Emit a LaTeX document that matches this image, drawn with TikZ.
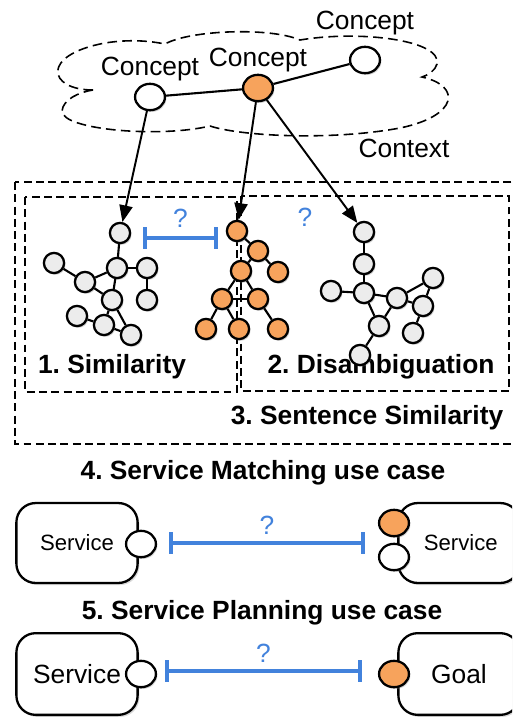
\documentclass[tikz,border=0pt]{standalone}
\usepackage{fontspec}
\setmainfont{Liberation Sans}
\usetikzlibrary{arrows.meta}
\usetikzlibrary{shadows}
\usetikzlibrary{shapes.geometric}
\definecolor{conceptorange}{RGB}{247,163,92}
\definecolor{nodegray}{RGB}{236,236,236}
\definecolor{qblue}{RGB}{66,130,220}
\frenchspacing

\begin{document}
\begin{tikzpicture}[x=0.02cm, y=-0.02cm, node distance={16pt},
  main/.style = {draw, circle, line width=1.3pt, fill=nodegray, minimum size=11.5pt, inner sep=0pt, drop shadow={shadow xshift=0.8pt, shadow yshift=-1pt, opacity=0.35}},
  orange/.style = {main, fill=conceptorange},
  concept/.style = {draw, ellipse, line width=1.3pt, fill=white, minimum width=17pt, minimum height=15pt, inner sep=0pt, drop shadow={shadow xshift=0.8pt, shadow yshift=-1pt, opacity=0.35}},
  word/.style = {font=\fontsize{15}{18}\selectfont, inner sep=0pt},
  title/.style = {font=\fontsize{15}{18}\selectfont\bfseries, inner sep=0pt},
  qmark/.style = {text=qblue, font=\fontsize{15}{18}\selectfont, inner sep=0pt},
  frame/.style = {line width=0.8pt, dash pattern=on 4.5pt off 2.5pt},
  cloudline/.style = {line width=0.9pt, dash pattern=on 5.5pt off 3pt},
  pointer/.style = {line width=1.1pt, -{Triangle[length=9.5pt, width=7.5pt]}},
  link/.style = {line width=1.2pt},
  qbar/.style = {draw=qblue, line width=2pt, {Bar[width=12.5pt, line width=2pt]}-{Bar[width=12.5pt, line width=2pt]}},
  svc/.style = {draw, rounded corners=11pt, line width=1.3pt, fill=white, minimum width=69pt, minimum height=45.5pt, drop shadow={shadow xshift=1pt, shadow yshift=-1.2pt, opacity=0.3}}]
\useasboundingbox (0,0) rectangle (512,717);
\clip (0,0) rectangle (512,717);

% concepts and their context
\draw[cloudline] (93,90) .. controls (48,90) and (40,55) .. (105,43)
  .. controls (130,39) and (150,41) .. (165,44)
  .. controls (190,30) and (270,27) .. (300,40)
  .. controls (360,30) and (442,40) .. (437,64)
  .. controls (435,71) and (428,75) .. (422,77)
  .. controls (462,86) and (458,116) .. (400,128)
  .. controls (330,141) and (240,136) .. (210,126)
  .. controls (160,138) and (62,130) .. (62,111)
  .. controls (63,99) and (80,92) .. (93,90) -- cycle;
\node[concept] (k1) at (150,97) {};
\node[concept, fill=conceptorange] (k2) at (258,88) {};
\node[concept] (k3) at (365,60) {};
\node[word] (l1) [above of = k1] {Concept};
\node[word] (l2) [above of = k2] {Concept};
\node[word, node distance={21pt}] (l3) [above of = k3] {Concept};
\node[word] (ctx) at (404,148) {Context};
\draw[link] (k1) to (k2);
\draw[link] (k2) to (k3);

% dashed frames
\draw[frame] (15,182) rectangle (530,444);
\draw[frame] (25,197) rectangle (237,392);
\draw[frame] (241,196) rectangle (509,391);
\node[title] (t1) at (112,367) {1. Similarity};
\node[title] (t2) at (381,367) {2. Disambiguation};
\node[title] (t3) at (367,418) {3. Sentence Similarity};

% graph 1
\node[main] (a1) at (120,233) {};
\node[main] (a2) at (117,268) {};
\node[main] (a3) at (147,268) {};
\node[main] (a4) at (147,300) {};
\node[main] (a5) at (54,263) {};
\node[main] (a6) at (85,282) {};
\node[main] (a7) at (112,300) {};
\node[main] (a8) at (77,316) {};
\node[main] (a9) at (104,325) {};
\node[main] (a10) at (131,335) {};
\draw[link] (a1) to (a2);
\draw[link] (a2) to (a3);
\draw[link] (a3) to (a4);
\draw[link] (a5) to (a6);
\draw[link] (a6) to (a2);
\draw[link] (a2) to (a7);
\draw[link] (a6) to (a7);
\draw[link] (a7) to (a9);
\draw[link] (a7) to (a10);
\draw[link] (a8) to (a9);
\draw[link] (a9) to (a10);

% graph 2
\node[orange] (b1) at (237,231) {};
\node[orange] (b2) at (258,251) {};
\node[orange] (b3) at (241,271) {};
\node[orange] (b4) at (278,272) {};
\node[orange] (b5) at (222,299) {};
\node[orange] (b6) at (258,299) {};
\node[orange] (b7) at (206,329) {};
\node[orange] (b8) at (239,329) {};
\node[orange] (b9) at (278,329) {};
\draw[link] (b1) to (b2);
\draw[link] (b2) to (b3);
\draw[link] (b2) to (b4);
\draw[link] (b3) to (b5);
\draw[link] (b3) to (b6);
\draw[link] (b5) to (b6);
\draw[link] (b5) to (b7);
\draw[link] (b5) to (b8);
\draw[link] (b6) to (b9);

% graph 3
\node[main] (c1) at (364,232) {};
\node[main] (c2) at (364,264) {};
\node[main] (c3) at (331,291) {};
\node[main] (c4) at (364,293) {};
\node[main] (c5) at (397,298) {};
\node[main] (c6) at (433,278) {};
\node[main] (c7) at (423,306) {};
\node[main] (c8) at (379,326) {};
\node[main] (c9) at (413,333) {};
\node[main] (c10) at (360,355) {};
\draw[link] (c1) to (c2);
\draw[link] (c2) to (c4);
\draw[link] (c3) to (c4);
\draw[link] (c4) to (c5);
\draw[link] (c4) to (c8);
\draw[link] (c5) to (c8);
\draw[link] (c5) to (c6);
\draw[link] (c5) to (c7);
\draw[link] (c6) to (c7);
\draw[link] (c7) to (c9);
\draw[link] (c8) to (c10);

% concepts point into the graphs
\draw[pointer] (k1) to (a1);
\draw[pointer] (k2) to (b1);
\draw[pointer] (k2) to (c1);
\coordinate (q1) at (143,238);
\coordinate (q2) at (218,238);
\draw[qbar] (q1) to node[qmark, above=5pt] {?} (q2);
\node[qmark] (q0) at (305,217) {?};

% use cases
\node[title] (t4) at (263,473) {4. Service Matching use case};
\node[svc, font=\fontsize{12.6}{15}\selectfont] (s1) at (77,543) {Service};
\node[concept] (p1) at (141,544) {};
\node[svc, font=\fontsize{12.6}{15}\selectfont] (s2) at (459,543) {\hspace{2pt}Service};
\node[concept, fill=conceptorange] (p2) at (394,523) {};
\node[concept] (p3) at (394,557) {};
\coordinate (q3) at (169,543);
\coordinate (q4) at (365,543);
\draw[qbar] (q3) to node[qmark, above=4pt] {?} (q4);

\node[title] (t5) at (262,613) {5. Service Planning use case};
\node[svc, minimum height=46.5pt, font=\fontsize{15}{18}\selectfont] (s3) at (77,674) {Service};
\node[concept] (p4) at (141,674) {};
\node[svc, minimum height=46.5pt, font=\fontsize{15}{18}\selectfont] (s4) at (459,674) {Goal};
\node[concept, fill=conceptorange] (p5) at (394,674) {};
\coordinate (q5) at (165,671);
\coordinate (q6) at (362,671);
\draw[qbar] (q5) to node[qmark, above=4pt] {?} (q6);
\end{tikzpicture}
\end{document}
